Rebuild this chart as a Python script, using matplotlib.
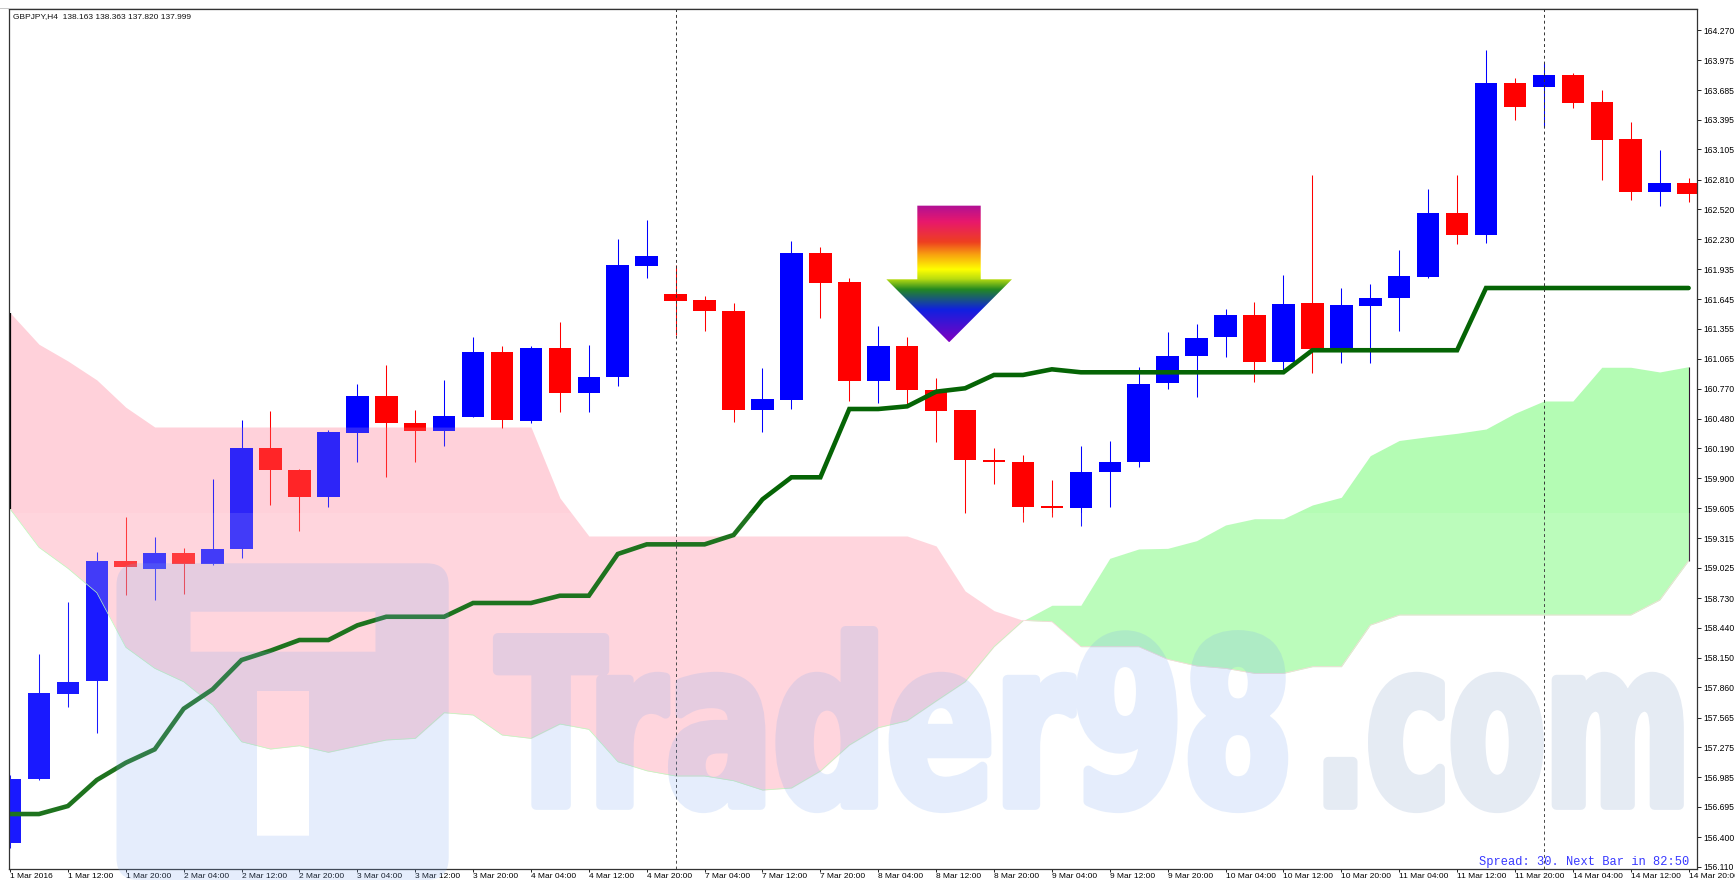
import numpy as np
import matplotlib
matplotlib.use('Agg')
import matplotlib.pyplot as plt
import matplotlib.patheffects as pe
from matplotlib.colors import LinearSegmentedColormap
from matplotlib.lines import Line2D
from matplotlib.patches import FancyBboxPatch, PathPatch, Polygon, Rectangle
from matplotlib.path import Path
from matplotlib.transforms import Affine2D, IdentityTransform

plt.rcParams['font.family'] = ['Liberation Sans', 'DejaVu Sans']

# candles, one entry per H4 bar
opens = [156.344, 156.963, 157.794, 157.921, 159.092, 159.014, 159.167, 159.065, 159.209, 160.194,
         159.982, 159.719, 160.337, 160.698, 160.440, 160.362, 160.496, 161.130, 160.460, 161.166,
         160.727, 160.886, 161.972, 161.696, 161.634, 161.530, 160.561, 160.665, 162.093, 161.810,
         160.850, 161.191, 160.759, 160.564, 160.080, 160.060, 159.628, 159.606, 159.957, 160.054,
         160.825, 161.088, 161.273, 161.491, 161.035, 161.605, 161.159, 161.582, 161.654, 161.864,
         162.483, 162.271, 163.754, 163.717, 163.834, 163.568, 163.204, 162.693, 162.781]
closes = [156.963, 157.801, 157.909, 159.092, 159.030, 159.167, 159.065, 159.206, 160.194, 159.976,
          159.713, 160.347, 160.698, 160.435, 160.362, 160.503, 161.130, 160.470, 161.166, 160.727,
          160.883, 161.978, 162.066, 161.627, 161.530, 160.567, 160.672, 162.093, 161.803, 160.850,
          161.191, 160.762, 160.557, 160.074, 160.057, 159.615, 159.606, 159.962, 160.054, 160.821,
          161.094, 161.269, 161.491, 161.035, 161.598, 161.159, 161.588, 161.654, 161.871, 162.483,
          162.271, 163.754, 163.517, 163.834, 163.558, 163.198, 162.693, 162.781, 162.668]
highs = [157.004, 158.182, 158.692, 159.179, 159.518, 159.323, 159.215, 159.894, 160.467, 160.557,
         159.992, 160.369, 160.821, 161.000, 160.564, 160.857, 161.273, 161.191, 161.188, 161.423,
         161.198, 162.229, 162.417, 161.978, 161.676, 161.605, 160.971, 162.210, 162.154, 161.849,
         161.384, 161.273, 160.876, 160.564, 160.194, 160.125, 159.879, 160.213, 160.262, 160.981,
         161.325, 161.403, 161.546, 161.615, 161.881, 162.856, 161.757, 161.790, 162.122, 162.720,
         162.856, 164.072, 163.805, 163.949, 163.851, 163.685, 163.373, 163.100, 162.827]
lows = [156.292, 156.956, 157.671, 157.411, 158.757, 158.711, 158.767, 159.053, 159.118, 159.638,
        159.387, 159.621, 160.060, 159.914, 160.060, 160.216, 160.496, 160.389, 160.435, 160.548,
        160.542, 160.798, 161.849, 161.296, 161.335, 160.444, 160.347, 160.577, 161.459, 160.655,
        160.630, 160.613, 160.255, 159.563, 159.845, 159.475, 159.518, 159.436, 159.621, 160.011,
        160.769, 160.694, 161.084, 160.840, 160.938, 160.928, 161.026, 161.020, 161.338, 161.855,
        162.183, 162.190, 163.393, 163.321, 163.507, 162.807, 162.612, 162.554, 162.596]

# ichimoku lines
tenkan = [156.624, 156.624, 156.702, 156.956, 157.124, 157.255, 157.651, 157.840, 158.126, 158.217,
          158.321, 158.321, 158.464, 158.548, 158.548, 158.548, 158.682, 158.682, 158.682, 158.753,
          158.753, 159.160, 159.254, 159.254, 159.254, 159.345, 159.693, 159.908, 159.908, 160.574,
          160.574, 160.600, 160.743, 160.776, 160.906, 160.906, 160.961, 160.932, 160.932, 160.932,
          160.932, 160.932, 160.932, 160.932, 160.932, 161.147, 161.147, 161.147, 161.147, 161.147,
          161.147, 161.754, 161.754, 161.754, 161.754, 161.754, 161.754, 161.754, 161.754]
span_b = [161.513, 161.205, 161.042, 160.857, 160.591, 160.398, 160.398, 160.398, 160.398, 160.398,
          160.398, 160.398, 160.398, 160.398, 160.398, 160.398, 160.398, 160.398, 160.398, 159.706,
          159.335, 159.335, 159.335, 159.335, 159.335, 159.335, 159.335, 159.335, 159.335, 159.335,
          159.335, 159.335, 159.238, 158.799, 158.607, 158.513, 158.500, 158.256, 158.256, 158.256,
          158.133, 158.068, 158.045, 157.996, 157.996, 158.061, 158.061, 158.467, 158.565, 158.565,
          158.565, 158.565, 158.565, 158.565, 158.565, 158.565, 158.565, 158.711, 159.095]
span_a = [159.599, 159.225, 159.020, 158.782, 158.250, 158.045, 157.914, 157.687, 157.329, 157.258,
          157.290, 157.226, 157.287, 157.346, 157.362, 157.612, 157.590, 157.395, 157.362, 157.502,
          157.450, 157.134, 157.046, 156.995, 156.995, 156.949, 156.858, 156.878, 157.043, 157.297,
          157.466, 157.534, 157.726, 157.914, 158.256, 158.509, 158.660, 158.660, 159.118, 159.209,
          159.215, 159.290, 159.443, 159.504, 159.504, 159.638, 159.713, 160.119, 160.267, 160.304,
          160.337, 160.379, 160.532, 160.652, 160.652, 160.981, 160.981, 160.935, 160.987]

x_labels = ['1 Mar 2016', '1 Mar 12:00', '1 Mar 20:00', '2 Mar 04:00', '2 Mar 12:00', '2 Mar 20:00',
            '3 Mar 04:00', '3 Mar 12:00', '3 Mar 20:00', '4 Mar 04:00', '4 Mar 12:00', '4 Mar 20:00',
            '7 Mar 04:00', '7 Mar 12:00', '7 Mar 20:00', '8 Mar 04:00', '8 Mar 12:00', '8 Mar 20:00',
            '9 Mar 04:00', '9 Mar 12:00', '9 Mar 20:00', '10 Mar 04:00', '10 Mar 12:00', '10 Mar 20:00',
            '11 Mar 04:00', '11 Mar 12:00', '11 Mar 20:00', '14 Mar 04:00', '14 Mar 12:00', '14 Mar 20:00']
y_ticks = [164.270, 163.975, 163.685, 163.395, 163.105, 162.810, 162.520, 162.230, 161.935, 161.645,
           161.355, 161.065, 160.770, 160.480, 160.190, 159.900, 159.605, 159.315, 159.025, 158.730,
           158.440, 158.150, 157.860, 157.565, 157.275, 156.985, 156.695, 156.400, 156.110]
separators = [23, 53]

W, H = 1735, 880
PINK = '#FFD1DA'
GREEN = '#B4FCB4'
WM_ALPHA = 0.2


class FatStretch(pe.AbstractPathEffect):
    # resizes a text about a point and fattens it, so a plain bold looks like the heavy logo face
    def __init__(self, x0, y0, sx, sy, lw):
        super().__init__()
        self.x0, self.y0, self.sx, self.sy, self.lw = x0, y0, sx, sy, lw

    def draw_path(self, renderer, gc, tpath, affine, rgbFace=None):
        t = Affine2D().translate(-self.x0, -self.y0).scale(self.sx, self.sy).translate(self.x0, self.y0)
        gc0 = renderer.new_gc()
        gc0.copy_properties(gc)
        gc0.set_linewidth(self.lw)
        gc0.set_foreground(rgbFace)
        gc0.set_joinstyle('round')
        renderer.draw_path(gc0, tpath, affine + t, rgbFace)
        gc0.restore()


def fade(im, dpi):
    # the word is drawn opaque, then faded as a whole so fill and outline do not add up
    im = im.copy()
    im[..., 3] *= WM_ALPHA
    return im, 0, 0


fig = plt.figure(figsize=(W / 100, H / 100), dpi=100)
ax = fig.add_axes([9 / W, 1 - 869.3 / H, (1697.3 - 9) / W, (869.3 - 9) / H])
x = np.arange(len(opens))
opens, closes, highs, lows = map(np.array, (opens, closes, highs, lows))
span_a, span_b = np.array(span_a), np.array(span_b)

# cloud under the candles
ax.fill_between(x, span_a, span_b, where=span_b >= span_a, interpolate=True, color=PINK, lw=0, zorder=1)
ax.fill_between(x, span_a, span_b, where=span_b <= span_a, interpolate=True, color=GREEN, lw=0, zorder=1)

colors = np.where(closes > opens, '#0000FF', '#FF0000')
ax.vlines(x, lows, highs, colors=colors, lw=0.75, zorder=2)
ax.bar(x, np.abs(closes - opens), bottom=np.minimum(opens, closes), width=0.78, color=colors, lw=0, zorder=2.1)

# cloud again, thin, so candles inside it look washed out
ax.fill_between(x, span_a, span_b, where=span_b >= span_a, interpolate=True, color=PINK, alpha=0.18, lw=0, zorder=3)
ax.plot(x[:36], span_a[:36], color=GREEN, lw=0.5, zorder=3.1)
ax.plot(x[35:], span_b[35:], color=PINK, lw=0.5, zorder=3.1)
ax.vlines(0, span_a[0], span_b[0], colors='black', lw=1.6, zorder=3.2)
ax.vlines(x[-1], span_b[-1], span_a[-1], colors='#301030', lw=0.8, zorder=3.2)

for s in separators:
    ax.axvline(s, color='#333333', lw=0.7, ls=(0, (3, 3)), zorder=4.5)

ax.plot(x, tenkan, color='#056405', lw=3.3, solid_capstyle='round', solid_joinstyle='miter', zorder=4)

# rainbow arrow
stops = [(0, (176, 16, 150)), (0.12, (232, 24, 108)), (0.27, (238, 64, 32)), (0.36, (248, 160, 16)),
         (0.47, (255, 255, 0)), (0.54, (184, 220, 16)), (0.617, (34, 136, 34)), (0.764, (16, 32, 224)),
         (1, (128, 0, 192))]
rainbow = LinearSegmentedColormap.from_list('rainbow_arrow', [(p, tuple(v / 255 for v in c)) for p, c in stops])
arrow = Polygon([(31.35, 162.557), (33.54, 162.557), (33.54, 161.839), (34.62, 161.839), (32.45, 161.225),
                 (30.28, 161.839), (31.35, 161.839)], closed=True, fc='none', ec='none', transform=ax.transData)
ax.add_patch(arrow)
img = ax.imshow(np.linspace(0, 1, 256).reshape(-1, 1), cmap=rainbow, aspect='auto', origin='upper',
                extent=(30.28, 34.62, 161.225, 162.557), zorder=5)
img.set_clip_path(arrow)

# faint seam of the watermark picture
ax.add_patch(Rectangle((-1, 156), 61, 159.556 - 156, fc='white', alpha=0.1, lw=0, zorder=6))

ax.set_xlim(-0.035, 58.3)
ax.set_ylim(156.085, 164.475)
ax.set_xticks(x[::2])
ax.set_xticklabels(x_labels, fontsize=6.05, ha='left', color='black')
ax.set_yticks(y_ticks)
ax.set_yticklabels(['%.3f' % v for v in y_ticks], fontsize=6.2, color='black')
ax.yaxis.tick_right()
ax.tick_params(axis='x', length=2.4, width=0.7, pad=0.5, color='#222222')
ax.tick_params(axis='y', length=3, width=0.7, pad=1.5, color='#222222')
for sp in ax.spines.values():
    sp.set_linewidth(0.9)
    sp.set_color('#333333')
    sp.set_zorder(10)

# light strip above the chart frame
fig.add_artist(Line2D([0, 1697.3 / W], [1 - 8 / H, 1 - 8 / H], color='#C8C8C8', lw=0.7))

fig.text(13 / W, 1 - 16.7 / H, 'GBPJPY,H4  138.163 138.363 137.820 137.999', fontsize=6.05, va='center', color='#111111')
fig.text(1478.7 / W, 1 - 861.7 / H, 'Spread: 30. Next Bar in 82:50', fontsize=8.65, va='center',
         family='Liberation Mono', color='#3838FF', zorder=6)

# watermark logo
logo = FancyBboxPatch((116.5 + 22, H - 880 + 22), 332.2 - 44, 316.7 - 44, boxstyle='round,pad=22,rounding_size=22')
holes = [Path([(190.5, H - 651.7), (190.5, H - 611.7), (375.5, H - 611.7), (375.5, H - 651.7), (190.5, H - 651.7)], closed=True),
         Path([(257, H - 835.7), (257, H - 691), (309, H - 691), (309, H - 835.7), (257, H - 835.7)], closed=True)]
logo_path = Path.make_compound_path(logo.get_path(), *holes)
fig.add_artist(PathPatch(logo_path, fc=(126 / 255, 169 / 255, 240 / 255), ec='none', alpha=WM_ALPHA,
                         transform=IdentityTransform(), zorder=7))

# watermark words
renderer = fig.canvas.get_renderer()
base = 805.0
for word, x0, x1, col in [('Trader98', 497, 1293, (126 / 255, 169 / 255, 240 / 255)),
                          ('.com', 1314, 1690, (126 / 255, 155 / 255, 198 / 255))]:
    t = fig.text(x0 / W, 1 - base / H, word, fontsize=100, family='DejaVu Sans', fontweight='bold',
                 color=col, va='baseline', ha='left', zorder=7)
    bb = t.get_window_extent(renderer)
    t.set_path_effects([FatStretch(x0, H - base, (x1 - x0) / bb.width, 1.65, 7)])
    t.set_agg_filter(fade)

fig.savefig('out.png', dpi=100)
